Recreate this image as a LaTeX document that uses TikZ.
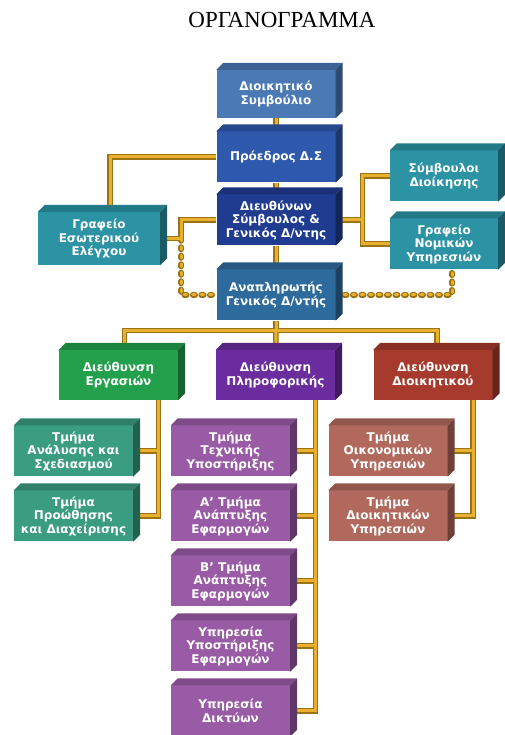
\documentclass[tikz,border=0pt]{standalone}
\usepackage{fontspec}
\usetikzlibrary{backgrounds}
\newfontfamily\boxfont{DejaVu Sans}
\newfontfamily\titlefont{Liberation Serif}
\definecolor{boardblue}{HTML}{4A79B4}
\definecolor{chairblue}{HTML}{2E59AD}
\definecolor{ceoblue}{HTML}{203C91}
\definecolor{deputyblue}{HTML}{2E6B9D}
\definecolor{staffteal}{HTML}{2B93A4}
\definecolor{opsgreen}{HTML}{22A04C}
\definecolor{itpurple}{HTML}{6B2C9E}
\definecolor{admred}{HTML}{A63A2C}
\definecolor{opssub}{HTML}{3A9C80}
\definecolor{itsub}{HTML}{9A5BA6}
\definecolor{admsub}{HTML}{B0695C}
\definecolor{bargold}{HTML}{E8B02E}
\definecolor{baredge}{HTML}{9A7414}
\tikzset{
	orgbox/.style={rectangle, fill=#1, text=white, align=center,
		font=\boxfont\bfseries\fontsize{12}{13.5}\selectfont,
		minimum width=119pt, minimum height=51pt, inner sep=2pt},
	barout/.style={draw=baredge, line width=5.5pt},
	barin/.style={draw=bargold, line width=3pt},
	beads/.style={dash pattern=on 2.5pt off 6pt, line cap=round}
}

\begin{document}
\begin{tikzpicture}[x=1pt, y=1pt, node distance=63pt]
	\useasboundingbox (0,0) rectangle (505,735);
	% Title
	\node[font=\titlefont\fontsize{23}{26}\selectfont] (title) at (282,715) {ΟΡΓΑΝΟΓΡΑΜΜΑ};
	% Place nodes
	\node[orgbox=boardblue, minimum height=48pt] (board) at (276,641) {Διοικητικό\\Συμβούλιο};
	\node[orgbox=chairblue, below of=board] (chair) {Πρόεδρος Δ.Σ};
	\node[orgbox=ceoblue, below of=chair] (ceo) {Διευθύνων\\Σύμβουλος \&\\Γενικός Δ/ντης};
	\node[orgbox=deputyblue, below of=ceo, node distance=75pt] (deputy) {Αναπληρωτής\\Γενικός Δ/ντής};
	\node[orgbox=staffteal, minimum width=122pt, minimum height=53pt] (audit) at (99,496.5) {Γραφείο\\Εσωτερικού\\Ελέγχου};
	\node[orgbox=staffteal, minimum width=108pt] (advisors) at (444,559) {Σύμβουλοι\\Διοίκησης};
	\node[orgbox=staffteal, minimum width=108pt] (legal) at (444,491) {Γραφείο\\Νομικών\\Υπηρεσιών};
	\node[orgbox=opsgreen, minimum height=50pt] (opsdir) at (118.5,360) {Διεύθυνση\\Εργασιών};
	\node[orgbox=itpurple, minimum height=50pt] (itdir) at (275.5,360) {Διεύθυνση\\Πληροφορικής};
	\node[orgbox=admred, minimum height=50pt] (admdir) at (433,360) {Διεύθυνση\\Διοικητικού};
	\begin{scope}[node distance=65pt]
		\node[orgbox=opssub] (opsa) at (73.5,284) {Τμήμα\\Ανάλυσης και\\Σχεδιασμού};
		\node[orgbox=opssub, below of=opsa] (opsb) {Τμήμα\\Προώθησης\\και Διαχείρισης};
		\node[orgbox=itsub] (ita) at (230.5,284) {Τμήμα\\Τεχνικής\\Υποστήριξης};
		\node[orgbox=itsub, below of=ita] (itb) {Α’ Τμήμα\\Ανάπτυξης\\Εφαρμογών};
		\node[orgbox=itsub, below of=itb] (itc) {Β’ Τμήμα\\Ανάπτυξης\\Εφαρμογών};
		\node[orgbox=itsub, below of=itc] (itd) {Υπηρεσία\\Υποστήριξης\\Εφαρμογών};
		\node[orgbox=itsub, below of=itd] (ite) {Υπηρεσία\\Δικτύων};
		\node[orgbox=admsub] (adma) at (388,284) {Τμήμα\\Οικονομικών\\Υπηρεσιών};
		\node[orgbox=admsub, below of=adma] (admb) {Τμήμα\\Διοικητικών\\Υπηρεσιών};
	\end{scope}
	% Top and side faces
	\foreach \n/\c in {board/boardblue, chair/chairblue, ceo/ceoblue, deputy/deputyblue,
		audit/staffteal, advisors/staffteal, legal/staffteal,
		opsdir/opsgreen, itdir/itpurple, admdir/admred,
		opsa/opssub, opsb/opssub, ita/itsub, itb/itsub, itc/itsub, itd/itsub, ite/itsub,
		adma/admsub, admb/admsub} {
		\fill[\c!82!black] (\n.north west) -- ++(7,7) -- ([shift={(7,7)}]\n.north east) -- (\n.north east) -- cycle;
		\fill[\c!62!black] (\n.north east) -- ++(7,7) -- ([shift={(7,7)}]\n.south east) -- (\n.south east) -- cycle;
	}
	% Draw edges
	\begin{pgfonlayer}{background}
		\foreach \layer in {barout, barin} {
			\draw[\layer] (board) -- (chair);
			\draw[\layer] (chair) -- (ceo);
			\draw[\layer] (ceo) -- (deputy);
			\draw[\layer] (chair.west) -| ([xshift=11pt]audit.north);
			\draw[\layer] (audit.east) -- ++(21,0) coordinate (auditjoin) |- (ceo.west);
			\draw[\layer] (ceo.east) -- ++(27,0) coordinate (advjoin);
			\draw[\layer] (advisors.west) -| (advjoin) |- (legal.west);
			\draw[\layer] (deputy.south) -- ++(0,-10) coordinate (bus);
			\draw[\layer] ([xshift=6pt]opsdir.north) |- (bus) -| ([xshift=4pt]admdir.north);
			\draw[\layer] (bus) -- (itdir);
			\foreach \dir/\sub in {opsdir/opsa, opsdir/opsb, itdir/ita, itdir/itb, itdir/itc,
				itdir/itd, itdir/ite, admdir/adma, admdir/admb}
				\draw[\layer] (\sub.east) -| ([xshift=40pt]\dir.south);
			\draw[\layer, beads] (auditjoin) |- (deputy.west);
			\draw[\layer, beads] (deputy.east) -| ([xshift=8pt]legal.south);
		}
	\end{pgfonlayer}
\end{tikzpicture}
\end{document}
